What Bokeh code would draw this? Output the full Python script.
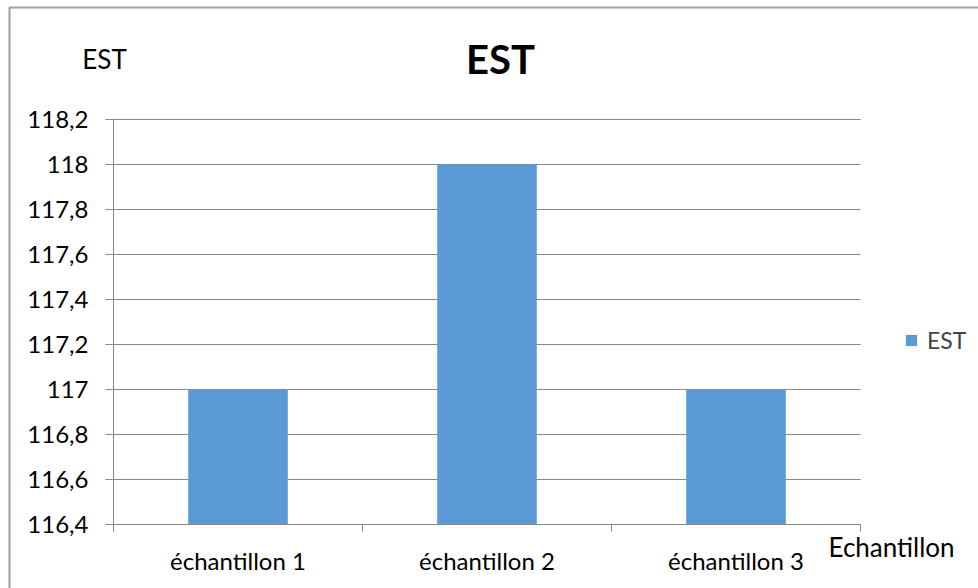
from bokeh.plotting import figure
from bokeh.models import Range1d, FixedTicker, Label, PolyAnnotation
from bokeh.embed import file_html
from bokeh.resources import INLINE

categories = ["échantillon 1", "échantillon 2", "échantillon 3"]
est_values = [117, 118, 117]
y_ticks = [116.4, 116.6, 116.8, 117.0, 117.2, 117.4, 117.6, 117.8, 118.0, 118.2]
y_tick_labels = ["116,4", "116,6", "116,8", "117", "117,2", "117,4", "117,6", "117,8", "118", "118,2"]
title_text = "EST"
y_title = "EST"
x_title = "Echantillon"
series_name = "EST"

FONT = "Lato"
GRAY = "#898989"
BAR = "#5b9bd5"

W, H = 978, 588
# plot-area box in canvas pixels (left, right, top, bottom)
PL, PR, PT, PB = 113, 860, 119, 524

n = len(categories)
y_min, y_max = y_ticks[0], y_ticks[-1]
kx = (PR - PL) / n
ky = (PB - PT) / (y_max - y_min)
x_range = Range1d(-PL / kx, n + (W - PR) / kx)
y_range = Range1d(y_min - (H - PB) / ky, y_max + PT / ky)

x_pos = [i + 0.5 for i in range(n)]
bottoms = [y_min] * len(est_values)

p = figure(width=W, height=H, output_backend="svg", toolbar_location=None,
           x_range=x_range, y_range=y_range,
           min_border_left=0, min_border_right=0, min_border_top=0, min_border_bottom=0)
p.title.visible = False
p.outline_line_color = None
p.background_fill_color = "white"
p.border_fill_color = "white"

# grid lines (limited to the plot area)
gy = p.ygrid[0]
gx = p.xgrid[0]
gx.grid_line_color = None
if "cross_bounds" in gy.properties():
    gy.cross_bounds = (0, n)
    gy.grid_line_color = GRAY
else:
    gy.grid_line_color = None
    p.segment(x0=0, x1=n, y0=y_ticks, y1=y_ticks, line_color=GRAY, line_width=1)

p.vbar(x=x_pos, top=est_values, bottom=bottoms, width=0.4, color=BAR,
       line_color=None, legend_label=series_name)

# y axis
ya = p.yaxis[0]
ya.fixed_location = 0
ya.bounds = (y_min, y_max)
ya.ticker = FixedTicker(ticks=y_ticks, minor_ticks=[])
ya.major_label_overrides = {t: lab for t, lab in zip(y_ticks, y_tick_labels)}
ya.axis_line_color = GRAY
ya.major_tick_line_color = GRAY
ya.major_tick_out = 8
ya.major_tick_in = 0
ya.minor_tick_line_color = None
ya.major_label_standoff = 17
ya.major_label_text_font = FONT
ya.major_label_text_font_size = "24px"
ya.major_label_text_color = "black"

# x axis: labels at category centres, tick marks at category boundaries
xa = p.xaxis[0]
xa.fixed_location = y_min
xa.bounds = (0, n)
xa.ticker = FixedTicker(ticks=x_pos, minor_ticks=list(range(n + 1)))
xa.major_label_overrides = {x: c for x, c in zip(x_pos, categories)}
xa.axis_line_color = GRAY
xa.major_tick_out = 0
xa.major_tick_in = 0
xa.minor_tick_out = 7
xa.minor_tick_in = 0
xa.minor_tick_line_color = GRAY
xa.major_label_standoff = 14
xa.major_label_text_font = FONT
xa.major_label_text_font_size = "24px"
xa.major_label_text_color = "black"

# titles (screen units from the canvas bottom-left)
p.add_layout(Label(x=500, y=H - 58, x_units="screen", y_units="screen", text=title_text,
                   text_font=FONT, text_font_style="bold", text_font_size="40px",
                   text_align="center", text_baseline="middle", text_color="black"))
p.add_layout(Label(x=104, y=H - 58, x_units="screen", y_units="screen", text=y_title,
                   text_font=FONT, text_font_size="26px",
                   text_align="center", text_baseline="middle", text_color="black"))
p.add_layout(Label(x=828, y=H - 546, x_units="screen", y_units="screen", text=x_title,
                   text_font=FONT, text_font_size="26px",
                   text_align="left", text_baseline="middle", text_color="black"))

# chart border (left and top edges visible)
p.add_layout(PolyAnnotation(xs=[9, 1200, 1200, 9], ys=[H - 7, H - 7, -200, -200],
                            xs_units="screen", ys_units="screen", fill_alpha=0,
                            line_color="#a0a0a0", line_alpha=1.0, line_width=2))

lg = p.legend[0]
lg.location = (904, H - 354)
lg.glyph_width = 14
lg.glyph_height = 14
lg.label_height = 14
lg.label_standoff = 9
lg.label_text_font = FONT
lg.label_text_font_size = "23px"
lg.border_line_color = None
lg.background_fill_alpha = 0
lg.padding = 0
lg.margin = 0

open("out.html", "w").write(file_html(p, INLINE))
